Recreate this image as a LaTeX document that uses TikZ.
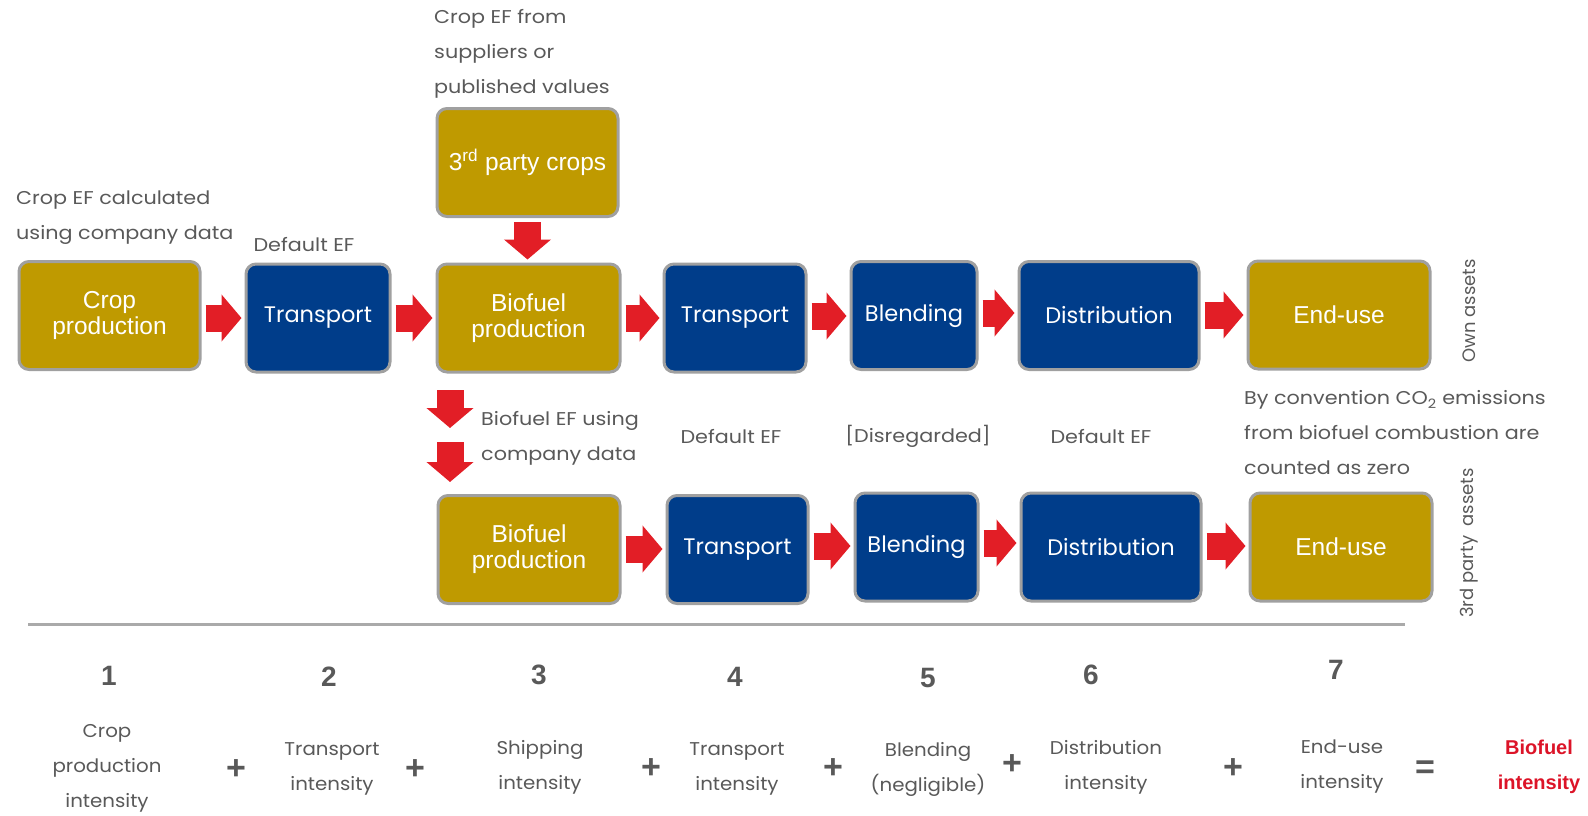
\documentclass[tikz,border=0pt]{standalone}
\usepackage{fontspec}
\setmainfont{Poppins}
\newfontfamily\arialf{Liberation Sans}
\newfontfamily\lblf[FakeStretch=1.12]{Poppins}
\newfontfamily\termf[FakeStretch=1.07]{Poppins}
\usetikzlibrary{arrows.meta,calc}
\definecolor{gold}{RGB}{191,154,0}
\definecolor{navy}{RGB}{0,61,138}
\definecolor{bordergray}{RGB}{160,160,160}
\definecolor{arrred}{RGB}{226,30,38}
\definecolor{txtgray}{RGB}{89,89,89}
\definecolor{linegray}{RGB}{170,170,170}
\definecolor{resred}{RGB}{220,20,40}
\tikzset{
  basebox/.style={rectangle, rounded corners=10pt, draw=bordergray, line width=3pt,
    text=white, align=center, inner sep=0pt, minimum height=108pt},
  goldbox/.style={basebox, fill=gold, font=\arialf\fontsize{24.5}{26}\selectfont},
  bluebox/.style={basebox, fill=navy, font=\fontsize{22.5}{26}\selectfont},
  blockarrow/.style={draw=arrred, line width=27pt, line cap=butt,
    -{Triangle[length=20pt,width=46pt]}, shorten <=4pt, shorten >=3pt},
  lbl/.style={text=txtgray, font=\lblf\fontsize{18.5}{35}\selectfont, inner sep=0pt},
  sidelbl/.style={text=txtgray, font=\fontsize{18}{20}\selectfont, inner sep=0pt, rotate=90},
  num/.style={text=txtgray, font=\arialf\bfseries\fontsize{28}{30}\selectfont, inner sep=0pt},
  op/.style={text=txtgray, font=\arialf\bfseries\fontsize{34}{36}\selectfont, inner sep=0pt},
  term/.style={text=txtgray, font=\termf\fontsize{18.5}{35}\selectfont, align=center, inner sep=0pt},
}
\begin{document}
\begin{tikzpicture}[x=1pt,y=-1pt]
\useasboundingbox (0,0) rectangle (1588,815);
% row 1
\node[goldbox, minimum width=181pt] (crop) at (109.5,315.5) {Crop\\production};
\node[bluebox, minimum width=144pt] (t1) at (318,318) {Transport};
\node[goldbox, minimum width=183pt] (bp1) at (528.5,318) {Biofuel\\production};
\node[bluebox, minimum width=142pt] (t2) at (735,318) {Transport};
\node[bluebox, minimum width=126pt] (bl1) at (914,315.5) {Blending};
\node[bluebox, minimum width=180pt] (d1) at (1109,315.5) {Distribution};
\node[goldbox, minimum width=182pt] (e1) at (1339,315) {End-use};
\node[goldbox, minimum width=181pt] (tpc) at (527.5,162.5) {3\textsuperscript{rd} party crops};
% row 2
\node[goldbox, minimum width=182pt] (bp2) at (529,549.5) {Biofuel\\production};
\node[bluebox, minimum width=141pt] (t3) at (737.5,549.5) {Transport};
\node[bluebox, minimum width=123pt] (bl2) at (916.5,547) {Blending};
\node[bluebox, minimum width=180pt] (d2) at (1111,547) {Distribution};
\node[goldbox, minimum width=182pt] (e2) at (1341,547) {End-use};
% arrows row 1
\draw[blockarrow] (crop.east |- 0,318) -- (t1.west |- 0,318);
\draw[blockarrow] (t1.east |- 0,318) -- (bp1.west |- 0,318);
\draw[blockarrow] (bp1.east |- 0,318) -- (t2.west |- 0,318);
\draw[blockarrow] (t2.east |- 0,316) -- (bl1.west |- 0,316);
\draw[blockarrow] (bl1.east |- 0,313) -- (d1.west |- 0,313);
\draw[blockarrow] (d1.east |- 0,315) -- (e1.west |- 0,315);
\draw[blockarrow] (tpc.south) -- (bp1.north -| tpc.south);
% arrows row 2
\draw[blockarrow] (bp2.east |- 0,549) -- (t3.west |- 0,549);
\draw[blockarrow] (t3.east |- 0,546) -- (bl2.west |- 0,546);
\draw[blockarrow] (bl2.east |- 0,543) -- (d2.west |- 0,543);
\draw[blockarrow] (d2.east |- 0,546) -- (e2.west |- 0,546);
% free down arrows
\coordinate (da1s) at (450,386);
\coordinate (da1e) at (450,431);
\coordinate (da2s) at (450,438);
\coordinate (da2e) at (450,485);
\draw[blockarrow] (da1s) -- (da1e);
\draw[blockarrow] (da2s) -- (da2e);
% labels
\node[lbl, anchor=west, align=left] (l1) at (16,218) {Crop EF calculated\\using company data};
\node[lbl] (l2) at (304,245) {Default EF};
\node[lbl, anchor=west, align=left] (l3) at (434,54) {Crop EF from\\suppliers or\\published values};
\node[lbl, anchor=west, align=left] (l4) at (481,438) {Biofuel EF using\\company data};
\node[lbl] (l5) at (731,437) {Default EF};
\node[lbl] (l6) at (918,436) {[Disregarded]};
\node[lbl] (l7) at (1101,437) {Default EF};
\node[lbl, anchor=west, align=left] (l8) at (1244,433) {By convention CO\textsubscript{2} emissions\\from biofuel combustion are\\counted as zero};
\node[sidelbl] (own) at (1469,311) {Own assets};
\node[sidelbl] (third) at (1469,543) {3rd party\ \ assets};
% separator
\draw[linegray, line width=3pt] (28,624) -- (1405,624);
% numbers
\node[num] (n1) at (109,676) {1};
\node[num] (n2) at (329,677) {2};
\node[num] (n3) at (539,675) {3};
\node[num] (n4) at (735,677) {4};
\node[num] (n5) at (928,678) {5};
\node[num] (n6) at (1091,675) {6};
\node[num] (n7) at (1336,670) {7};
% equation
\node[term] (s1) at (107,768) {Crop\\production\\intensity};
\node[op] (p1) at (236,770) {+};
\node[term] (s2) at (332,769) {Transport\\intensity};
\node[op] (p2) at (415,770) {+};
\node[term] (s3) at (540,767) {Shipping\\intensity};
\node[op] (p3) at (651,769) {+};
\node[term] (s4) at (737,769) {Transport\\intensity};
\node[op] (p4) at (833,769) {+};
\node[term] (s5) at (928,769) {Blending\\(negligible)};
\node[op] (p5) at (1012,765) {+};
\node[term] (s6) at (1106,767) {Distribution\\intensity};
\node[op] (p6) at (1233,769) {+};
\node[term] (s7) at (1342,767) {End-use\\intensity};
\node[op] (eq) at (1425,770) {=};
\node[term, text=resred, font=\arialf\bfseries\fontsize{20}{35}\selectfont] (res) at (1539,767) {Biofuel\\intensity};
\end{tikzpicture}
\end{document}
